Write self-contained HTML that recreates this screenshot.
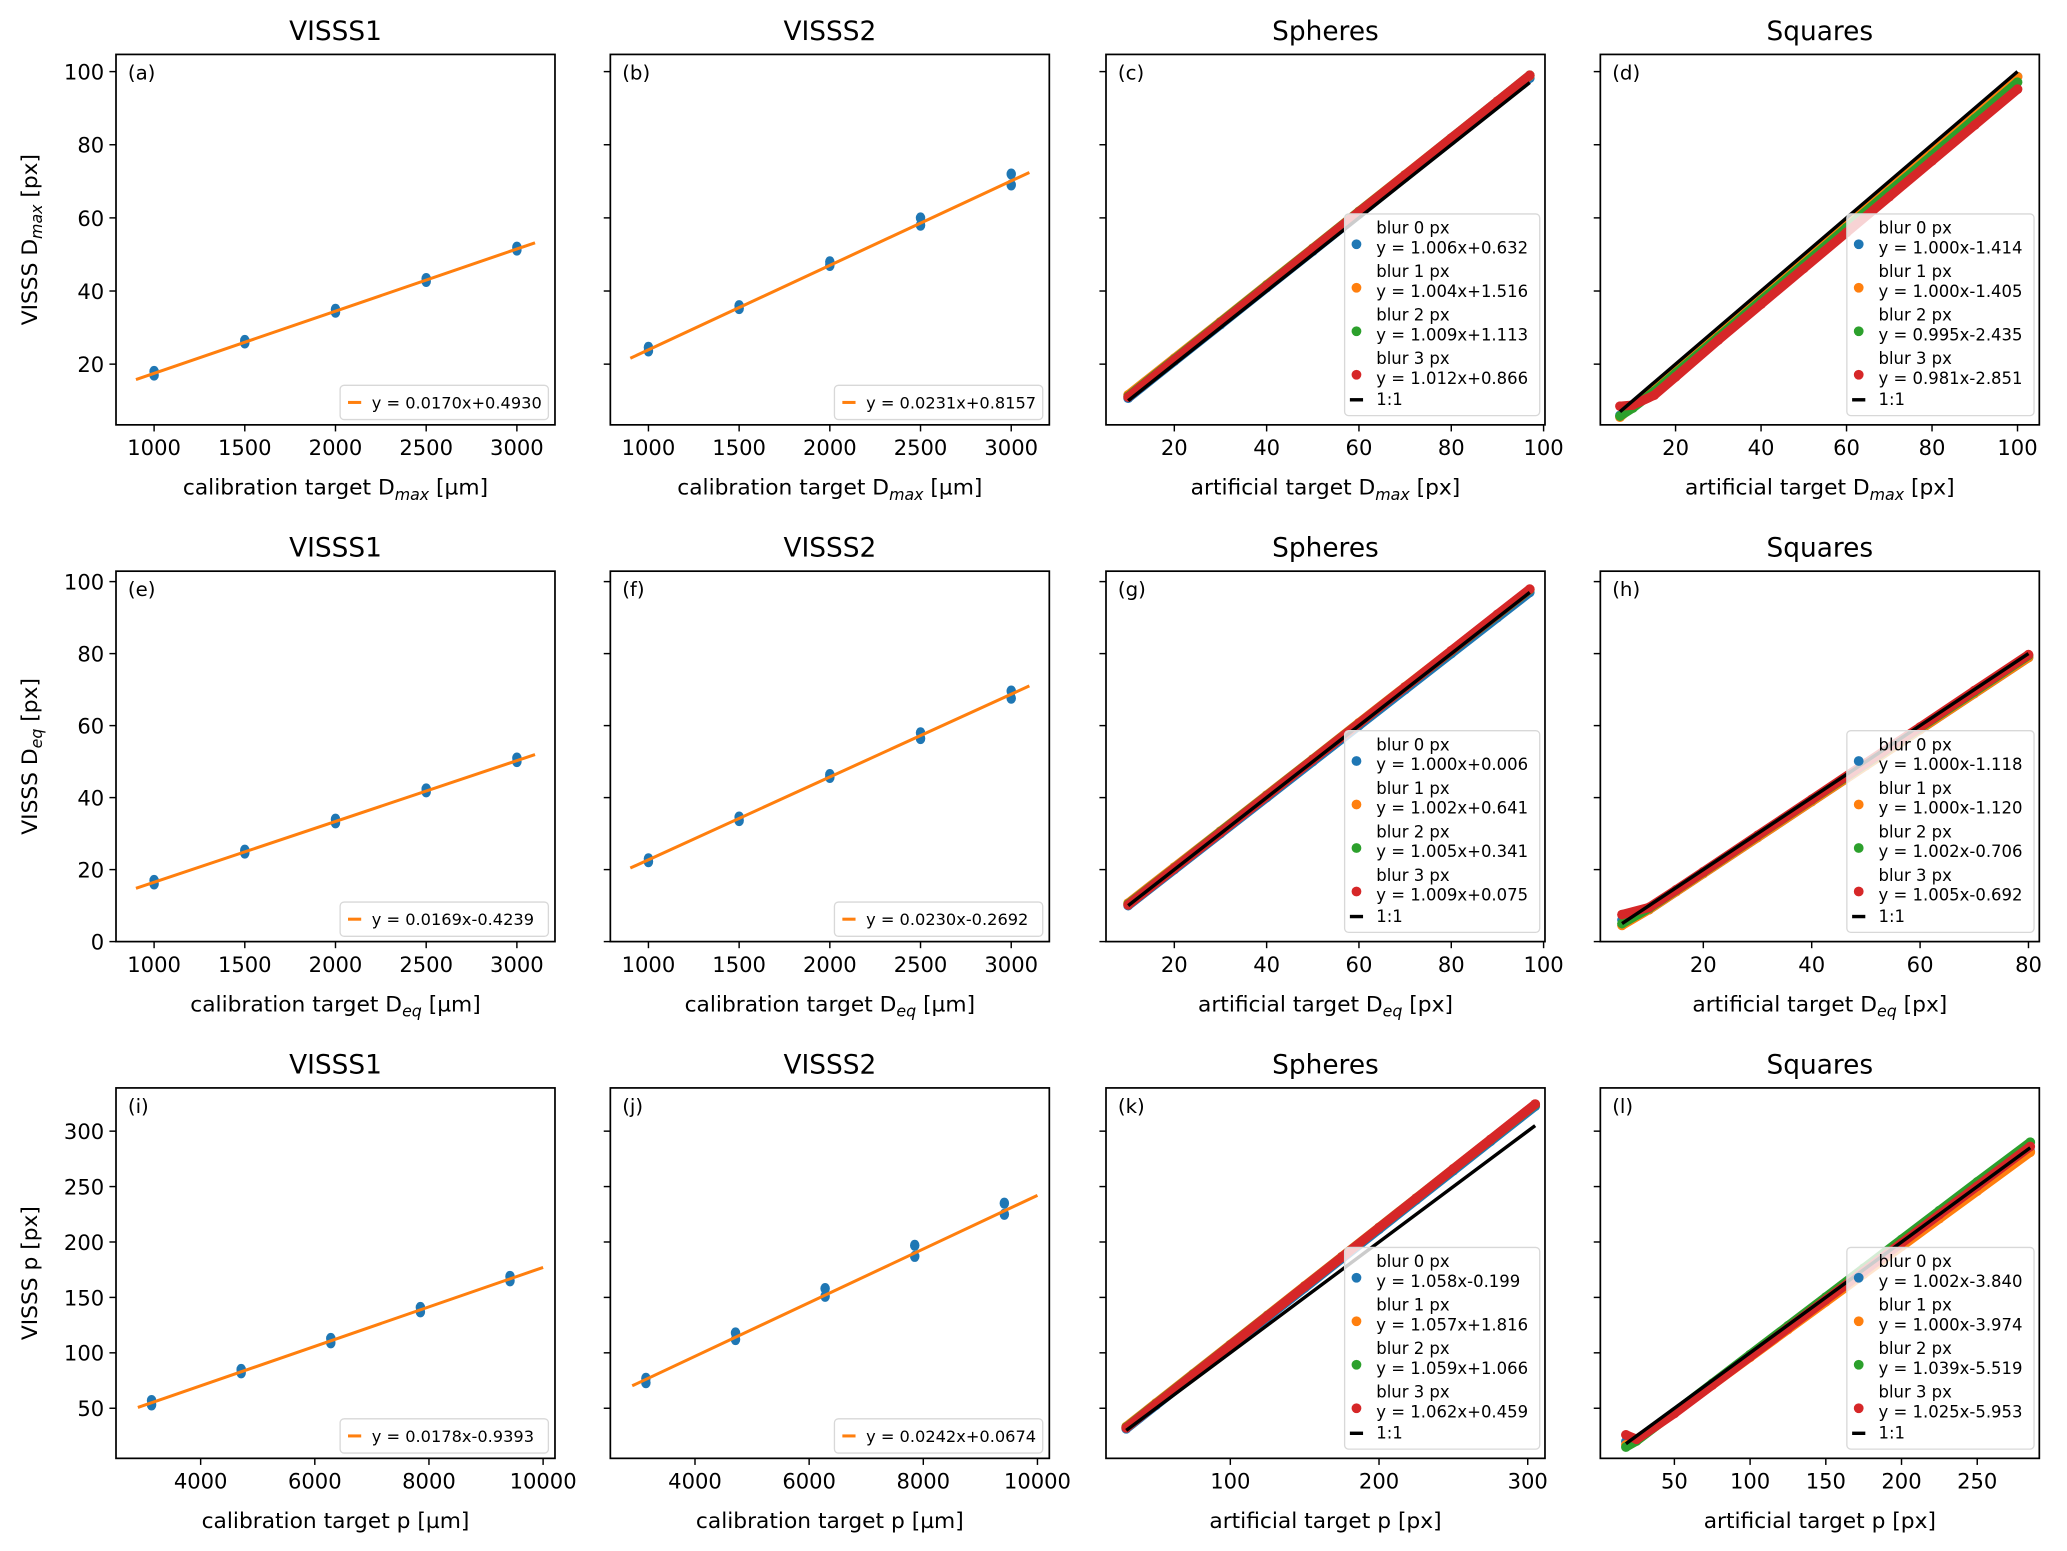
<!DOCTYPE html>
<html><head><meta charset="utf-8">
<style>
html,body{margin:0;padding:0;background:#fff;}
svg{display:block;}
text{font-family:"DejaVu Sans","Liberation Sans",sans-serif;fill:#000;}
</style></head>
<body>
<svg id="fig" width="2067" height="1551" viewBox="0 0 1568 1176" xmlns="http://www.w3.org/2000/svg"></svg>
<script>
// ---------- data ----------
const calibX_a = [1000,1000,1500,1500,2000,2000,2500,2500,3000,3000];
const calibY_a = [17,18,25.8,26.5,34.2,35,42.6,43.4,51.2,52];
const calibX_b = [1000,1000,1500,1500,2000,2000,2500,2500,3000,3000];
const calibY_b = [23.6,24.6,35.2,36,47,48,58,60,69,72];
const calibX_e = [1000,1000,1500,1500,2000,2000,2500,2500,3000,3000];
const calibY_e = [16,17,24.6,25.4,33,34,41.6,42.4,50,51];
const calibX_f = [1000,1000,1500,1500,2000,2000,2500,2500,3000,3000];
const calibY_f = [22.2,23,33.6,34.6,45.6,46.4,56.4,58,67.6,69.6];
const calibX_i = [3140,3140,4710,4710,6280,6280,7850,7850,9420,9420];
const calibY_i = [53,57,82,85,109,113,137,141,165,169];
const calibX_j = [3140,3140,4710,4710,6280,6280,7850,7850,9420,9420];
const calibY_j = [73,77,112,118,151,158,187,197,225,235];
const fitLine = {a:[0.0170,0.4930],b:[0.0231,0.8157],e:[0.0169,-0.4239],f:[0.0230,-0.2692],i:[0.0178,-0.9393],j:[0.0242,0.0674]};
const fitLabel = {a:"y = 0.0170x+0.4930",b:"y = 0.0231x+0.8157",e:"y = 0.0169x-0.4239",f:"y = 0.0230x-0.2692",i:"y = 0.0178x-0.9393",j:"y = 0.0242x+0.0674"};

const artX_c = [10,20,30,40,50,60,70,80,90,97];
const c_blur0 = [10.7,20.8,30.8,40.9,50.9,61.0,71.1,81.1,91.2,98.2];
const c_blur1 = [11.6,21.6,31.6,41.7,51.7,61.8,71.8,81.8,91.9,98.9];
const c_blur2 = [11.2,21.3,31.4,41.5,51.6,61.7,71.7,81.8,91.9,99.0];
const c_blur3 = [11.0,21.1,31.2,41.3,51.5,61.6,71.7,81.8,91.9,99.0];
const artX_d = [7,10,15,20,30,40,50,60,70,80,90,100];
const d_blur0 = [6,8.5,13.5,18.6,28.6,38.6,48.6,58.6,68.6,78.6,88.6,98.6];
const d_blur1 = [5.5,8.6,13.6,18.6,28.6,38.6,48.6,58.6,68.6,78.6,88.6,98.6];
const d_blur2 = [5.8,8,12.5,17.5,27.4,37.4,47.3,57.3,67.2,77.1,87.1,97.1];
const d_blur3 = [8.5,8.8,11.5,16.5,26.6,36.4,46.2,56.0,65.8,75.6,85.4,95.2];
const artX_g = [10,20,30,40,50,60,70,80,90,97];
const g_blur0 = [10,20,30,40,50,60,70,80,90,97];
const g_blur1 = [10.7,20.7,30.7,40.7,50.7,60.8,70.8,80.8,90.8,97.8];
const g_blur2 = [10.4,20.4,30.5,40.5,50.6,60.6,70.7,80.7,90.8,97.8];
const g_blur3 = [10.2,20.3,30.3,40.4,50.5,60.6,70.7,80.8,90.9,97.9];
const artX_h = [5,10,15,20,30,40,50,60,70,80];
const h_blur0 = [6,8.9,13.9,18.9,28.9,38.9,48.9,58.9,68.9,78.9];
const h_blur1 = [4.5,8.9,13.9,18.9,28.9,38.9,48.9,58.9,68.9,78.9];
const h_blur2 = [5,9.3,14.3,19.3,29.4,39.4,49.4,59.4,69.4,79.5];
const h_blur3 = [7.5,9.5,14.4,19.4,29.5,39.5,49.6,59.6,69.7,79.7];
const artX_k = [30,50,75,100,125,150,175,200,225,250,275,305];
const k_blur0 = [31.5,52.7,79.2,105.6,132.1,158.5,185,211.4,237.9,264.3,290.8,322.5];
const k_blur1 = [33.5,54.7,81.1,107.5,133.9,160.4,186.8,213.2,239.6,266.1,292.5,324.2];
const k_blur2 = [32.8,54,80.5,107,133.4,159.9,186.4,212.9,239.3,265.8,292.3,324.1];
const k_blur3 = [32.3,53.6,80.1,106.7,133.2,159.8,186.3,212.9,239.4,266,292.5,324.4];
const artX_l = [18,25,50,75,100,125,150,175,200,225,250,285];
const l_blur0 = [20,21.2,46.3,71.3,96.4,121.4,146.5,171.5,196.6,221.6,246.7,281.7];
const l_blur1 = [17,21,46,71,96,121,146,171,196,221,246,281];
const l_blur2 = [15,20.5,46.4,72.4,98.4,124.4,150.3,176.3,202.3,228.3,254.2,290];
const l_blur3 = [26,22,45.3,70.9,96.5,122.2,147.8,173.4,199,224.7,250.3,286.2];
const blurLabels = ["blur 0 px","blur 1 px","blur 2 px","blur 3 px"];
const eqLabels = {
 c:["y = 1.006x+0.632","y = 1.004x+1.516","y = 1.009x+1.113","y = 1.012x+0.866"],
 d:["y = 1.000x-1.414","y = 1.000x-1.405","y = 0.995x-2.435","y = 0.981x-2.851"],
 g:["y = 1.000x+0.006","y = 1.002x+0.641","y = 1.005x+0.341","y = 1.009x+0.075"],
 h:["y = 1.000x-1.118","y = 1.000x-1.120","y = 1.002x-0.706","y = 1.005x-0.692"],
 k:["y = 1.058x-0.199","y = 1.057x+1.816","y = 1.059x+1.066","y = 1.062x+0.459"],
 l:["y = 1.002x-3.840","y = 1.000x-3.974","y = 1.039x-5.519","y = 1.025x-5.953"]};
const colors = ["#1f77b4","#ff7f0e","#2ca02c","#d62728"];
const calibTicks = [1000,1500,2000,2500,3000];
const perimTicks = [4000,6000,8000,10000];
const row1YTicks = [20,40,60,80,100];
const row2YTicks = [0,20,40,60,80,100];
const row3YTicks = [50,100,150,200,250,300];

// ---------- layout ----------
const NS="http://www.w3.org/2000/svg";
const svg=document.getElementById('fig');
function el(tag,attrs,parent){const e=document.createElementNS(NS,tag);for(const k in attrs)e.setAttribute(k,attrs[k]);(parent||svg).appendChild(e);return e;}
const colX=[88,463,839,1214], W=333, rowY=[41,433,825], H=281;
const rowYLim=[[3.4,104.7],[0,102.9],[4.8,339]];
const rowYTicks=[row1YTicks,row2YTicks,row3YTicks];
const rowTitles=["VISSS1","VISSS2","Spheres","Squares"];

const panels=[
 {id:'a',r:0,c:0,xl:[790,3210],xt:calibTicks,kind:'cal',X:calibX_a,Y:calibY_a,line:[900,3100],xlab:['calibration target D','max',' [µm]']},
 {id:'b',r:0,c:1,xl:[790,3210],xt:calibTicks,kind:'cal',X:calibX_b,Y:calibY_b,line:[900,3100],xlab:['calibration target D','max',' [µm]']},
 {id:'c',r:0,c:2,xl:[5.2,100.3],xt:[20,40,60,80,100],kind:'art',X:artX_c,S:[c_blur0,c_blur1,c_blur2,c_blur3],xlab:['artificial target D','max',' [px]']},
 {id:'d',r:0,c:3,xl:[2.4,105.1],xt:[20,40,60,80,100],kind:'art',X:artX_d,S:[d_blur0,d_blur1,d_blur2,d_blur3],xlab:['artificial target D','max',' [px]']},
 {id:'e',r:1,c:0,xl:[790,3210],xt:calibTicks,kind:'cal',X:calibX_e,Y:calibY_e,line:[900,3100],xlab:['calibration target D','eq',' [µm]']},
 {id:'f',r:1,c:1,xl:[790,3210],xt:calibTicks,kind:'cal',X:calibX_f,Y:calibY_f,line:[900,3100],xlab:['calibration target  D','eq',' [µm]']},
 {id:'g',r:1,c:2,xl:[5.2,100.3],xt:[20,40,60,80,100],kind:'art',X:artX_g,S:[g_blur0,g_blur1,g_blur2,g_blur3],xlab:['artificial target D','eq',' [px]']},
 {id:'h',r:1,c:3,xl:[1,82],xt:[20,40,60,80],kind:'art',X:artX_h,S:[h_blur0,h_blur1,h_blur2,h_blur3],xlab:['artificial target D','eq',' [px]']},
 {id:'i',r:2,c:0,xl:[2517,10208],xt:perimTicks,kind:'cal',X:calibX_i,Y:calibY_i,line:[2900,10000],xlab:['calibration target  p [µm]','','']},
 {id:'j',r:2,c:1,xl:[2517,10208],xt:perimTicks,kind:'cal',X:calibX_j,Y:calibY_j,line:[2900,10000],xlab:['calibration target  p [µm]','','']},
 {id:'k',r:2,c:2,xl:[16.4,311.6],xt:[100,200,300],kind:'art',X:artX_k,S:[k_blur0,k_blur1,k_blur2,k_blur3],xlab:['artificial target p [px]','','']},
 {id:'l',r:2,c:3,xl:[1.1,291],xt:[50,100,150,200,250],kind:'art',X:artX_l,S:[l_blur0,l_blur1,l_blur2,l_blur3],xlab:['artificial target p [px]','','']}
];
const yLabels=[['VISSS D','max',' [px]'],['VISSS D','eq',' [px]'],['VISSS p [px]','','']];

function richText(parent,parts,attrs){
  const t=el('text',attrs,parent);
  t.setAttribute('xml:space','preserve');
  const a=el('tspan',{},t);a.textContent=parts[0];
  if(parts[1]){const s=el('tspan',{'font-style':'italic','font-size':'12','dy':'4'},t);s.textContent=parts[1];
    const b=el('tspan',{'dy':'-4'},t);b.textContent=parts[2];}
  return t;
}

panels.forEach(p=>{
  const x0=colX[p.c], y0=rowY[p.r];
  const yl=rowYLim[p.r];
  const sx=v=>x0+(v-p.xl[0])/(p.xl[1]-p.xl[0])*W;
  const sy=v=>y0+H-(v-yl[0])/(yl[1]-yl[0])*H;
  const g=el('g',{});
  
  
  const clipId='clip'+p.id;
  const cp=el('clipPath',{id:clipId},g);el('rect',{x:x0,y:y0,width:W,height:H},cp);
  const ti=el('text',{x:x0+W/2,y:y0-11,'text-anchor':'middle','font-size':'20'},g);
  ti.textContent=rowTitles[p.c];
  
  
  const plot=el('g',{'clip-path':'url(#'+clipId+')'},g);
  if(p.kind==='cal'){
    p.X.forEach((xv,i)=>{
      const m=el('ellipse',{cx:sx(xv),cy:sy(p.Y[i]),rx:3.6,ry:4.2,fill:colors[0]},plot);
      
      
    });
    const f=fitLine[p.id];
    const ln=el('line',{x1:sx(p.line[0]),y1:sy(f[0]*p.line[0]+f[1]),x2:sx(p.line[1]),y2:sy(f[0]*p.line[1]+f[1]),stroke:colors[1],'stroke-width':2.3},plot);
    
    
  } else {
    p.S.forEach((ser,si)=>{
      const pts=p.X.map((xv,i)=>sx(xv)+','+sy(ser[i])).join(' ');
      const pl=el('polyline',{points:pts,fill:'none',stroke:colors[si],'stroke-width':7,'stroke-linecap':'round','stroke-linejoin':'round'},plot);
      
      
      p.X.forEach((xv,i)=>{
        const m=el('circle',{cx:sx(xv),cy:sy(ser[i]),r:3.7,fill:colors[si]},plot);
        
        
      });
    });
    const xa=p.X[0], xb=p.X[p.X.length-1];
    const one=el('line',{x1:sx(xa),y1:sy(xa),x2:sx(xb),y2:sy(xb),stroke:'#000','stroke-width':2.6},plot);
    
    
  }
  const fr=el('rect',{x:x0,y:y0,width:W,height:H,fill:'none',stroke:'#000','stroke-width':1.3},g);
  
  
  p.xt.forEach(tv=>{
    const X=sx(tv);
    el('line',{x1:X,y1:y0+H,x2:X,y2:y0+H+5,stroke:'#000','stroke-width':1.1},g);
    const tl=el('text',{x:X,y:y0+H+23,'text-anchor':'middle','font-size':'16'},g);
    tl.textContent=tv;
    
    
  });
  rowYTicks[p.r].forEach(tv=>{
    const Y=sy(tv);
    el('line',{x1:x0-5,y1:Y,x2:x0,y2:Y,stroke:'#000','stroke-width':1.1},g);
    if(p.c===0){
      const tl=el('text',{x:x0-9,y:Y+6,'text-anchor':'end','font-size':'16'},g);
      tl.textContent=tv;
      
      
    }
  });
  const xlab=richText(g,p.xlab,{x:x0+W/2,y:y0+H+53,'text-anchor':'middle','font-size':'16.5'});
  
  
  const lt=el('text',{x:x0+9,y:y0+19,'font-size':'15'},g);
  lt.textContent='('+p.id+')';
  
  
  if(p.kind==='cal'){
    const lg=el('g',{},g);
    
    
    const lx=x0+W-163, ly=y0+H-30;
    el('rect',{x:lx,y:ly,width:158,height:26,rx:3,fill:'#fff','fill-opacity':0.8,stroke:'#d8d8d8','stroke-width':1},lg);
    el('line',{x1:lx+6,y1:ly+13,x2:lx+16,y2:ly+13,stroke:colors[1],'stroke-width':2.3},lg);
    const tx=el('text',{x:lx+24,y:ly+17.5,'font-size':'12.3'},lg);
    tx.textContent=fitLabel[p.id];
  } else {
    const lg=el('g',{},g);
    
    
    const lw=(p.c===3)?142:148;
    const lx=x0+W-lw-4, ly=y0+121;
    el('rect',{x:lx,y:ly,width:lw,height:153,rx:3,fill:'#fff','fill-opacity':0.8,stroke:'#d8d8d8','stroke-width':1},lg);
    for(let i=0;i<4;i++){
      const ey=ly+11+i*33;
      const mk=el('circle',{cx:lx+9,cy:ey+12,r:3.7,fill:colors[i]},lg);
      
      
      const t1=el('text',{x:lx+24,y:ey+4,'font-size':'12.5'},lg);t1.textContent=blurLabels[i];
      const t2=el('text',{x:lx+24,y:ey+19,'font-size':'12.5'},lg);
      t2.setAttribute('xml:space','preserve');
      t2.textContent=' '+eqLabels[p.id][i];
    }
    el('line',{x1:lx+4,y1:ly+141,x2:lx+14,y2:ly+141,stroke:'#000','stroke-width':2.6},lg);
    const t3=el('text',{x:lx+24,y:ly+145,'font-size':'12.5'},lg);t3.textContent='1:1';
  }
});
yLabels.forEach((parts,r)=>{
  const cy=rowY[r]+H/2;
  const t=richText(svg,parts,{x:0,y:0,'text-anchor':'middle','font-size':'16.5',transform:'translate(28,'+cy+') rotate(-90)'});
  
  
});
</script>
</body></html>
